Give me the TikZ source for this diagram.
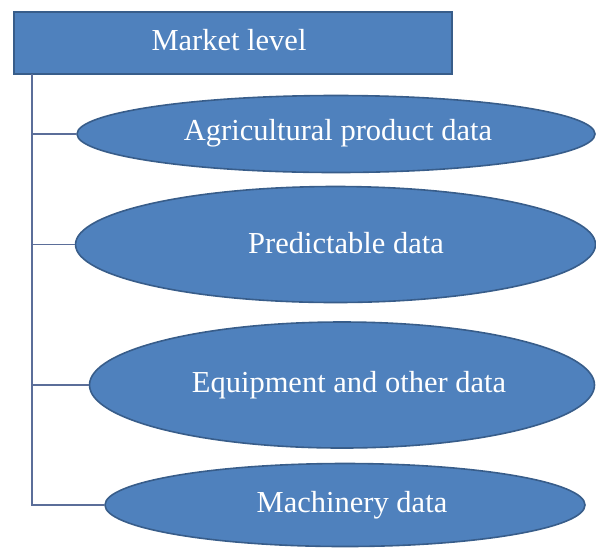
\documentclass[tikz,border=0pt]{standalone}
\usepackage{fontspec}
\setmainfont{Liberation Serif}
\usetikzlibrary{shapes.geometric}
\definecolor{boxfill}{HTML}{4F81BD}
\definecolor{boxline}{HTML}{385D8A}
\definecolor{treeline}{HTML}{5B6E99}
\begin{document}
\begin{tikzpicture}[x=1pt,y=-1pt,
  ellbox/.style={ellipse, draw=boxline, line width=1.6pt, fill=boxfill, inner sep=0pt},
  headbox/.style={rectangle, draw=boxline, line width=1.6pt, fill=boxfill, inner sep=0pt},
  lbl/.style={text=white, inner sep=0pt, anchor=base, font=\fontsize{30.5}{34}\selectfont},
  conn/.style={draw=treeline, line width=1.1pt}]
\useasboundingbox (0,0) rectangle (596,558);
\node[headbox, minimum width=438pt, minimum height=62pt] (head) at (233,43) {};
\node[ellbox, minimum width=518pt, minimum height=77pt] (e1) at (336,134) {};
\node[ellbox, minimum width=520pt, minimum height=116pt] (e2) at (335.5,244.5) {};
\node[ellbox, minimum width=505pt, minimum height=126pt] (e3) at (342,385) {};
\node[ellbox, minimum width=480pt, minimum height=83pt] (e4) at (345,505) {};
\node[lbl] (t0) at (229,50) {Market level};
\node[lbl] (t1) at (338,140) {Agricultural product data};
\node[lbl] (t2) at (346,253) {Predictable data};
\node[lbl] (t3) at (349,392) {Equipment and other data};
\node[lbl] (t4) at (352,512) {Machinery data};
\coordinate (ttop) at (32,74);
\coordinate (tb1) at (32,134);
\coordinate (tb2) at (32,244.5);
\coordinate (tb3) at (32,385);
\coordinate (tb4) at (32,505);
\draw[conn] (ttop) -- (tb4) -- (e4.west);
\draw[conn] (tb1) -- (e1.west);
\draw[conn] (tb2) -- (e2.west);
\draw[conn] (tb3) -- (e3.west);
\end{tikzpicture}
\end{document}
